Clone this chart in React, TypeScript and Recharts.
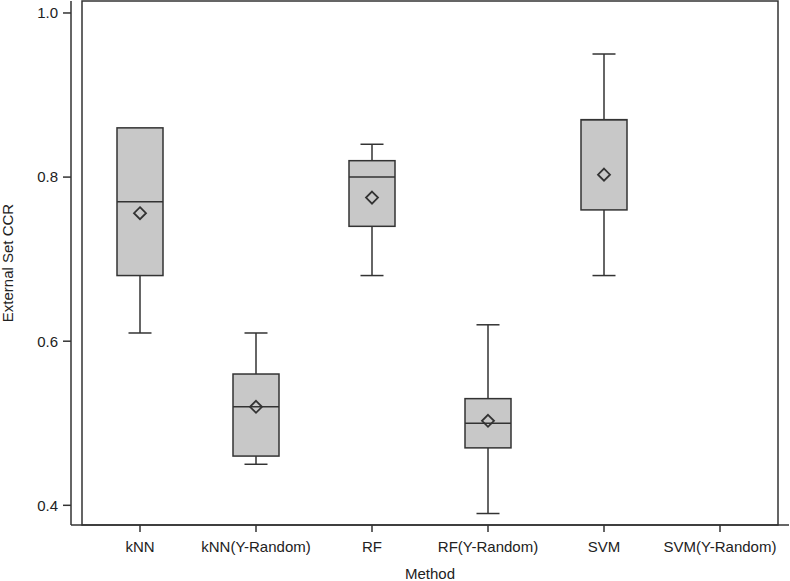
import React from 'react';
import { ComposedChart, Bar, Scatter, XAxis, YAxis, ReferenceArea } from 'recharts';

const methods = ['kNN', 'kNN(Y-Random)', 'RF', 'RF(Y-Random)', 'SVM', 'SVM(Y-Random)'];
const mins = [0.61, 0.45, 0.68, 0.39, 0.68, null];
const q1s = [0.68, 0.46, 0.74, 0.47, 0.76, null];
const medians = [0.77, 0.52, 0.8, 0.5, 0.87, null];
const q3s = [0.86, 0.56, 0.82, 0.53, 0.87, null];
const maxs = [0.86, 0.61, 0.84, 0.62, 0.95, null];
const means = [0.756, 0.52, 0.775, 0.503, 0.803, null];
const yTicks = [0.4, 0.6, 0.8, 1.0];

const Y_MIN = 0.376;
const Y_MAX = 1.0146;

const data = methods.map((name, i) => ({
  name,
  min: mins[i],
  q1: q1s[i],
  median: medians[i],
  q3: q3s[i],
  max: maxs[i],
  mean: means[i],
  range: mins[i] == null ? null : [mins[i], maxs[i]],
}));

const INK = '#333';
const FONT = '"Liberation Sans", Arial, sans-serif';

// draws the whole box from the [min, max] bar geometry
const BoxShape = (props: any) => {
  const { x, y, width, height, payload } = props;
  if (payload.min == null || !height) return null;
  const span = payload.max - payload.min;
  const py = (v: number) => y + ((payload.max - v) / span) * height;
  const cx = x + width / 2;
  const cap = width / 4;
  return (
    <g stroke={INK} strokeWidth={1.5}>
      <line x1={cx} x2={cx} y1={py(payload.max)} y2={py(payload.q3)} />
      <line x1={cx} x2={cx} y1={py(payload.q1)} y2={py(payload.min)} />
      {payload.max > payload.q3 && <line x1={cx - cap} x2={cx + cap} y1={py(payload.max)} y2={py(payload.max)} />}
      {payload.min < payload.q1 && <line x1={cx - cap} x2={cx + cap} y1={py(payload.min)} y2={py(payload.min)} />}
      <rect x={x} y={py(payload.q3)} width={width} height={py(payload.q1) - py(payload.q3)} fill="#c8c8c8" />
      <line x1={x} x2={x + width} y1={py(payload.median)} y2={py(payload.median)} />
    </g>
  );
};

const Diamond = (props: any) => {
  const { cx, cy, payload } = props;
  if (payload.mean == null || cx == null || cy == null) return null;
  const r = 6;
  return (
    <path
      d={`M${cx},${cy - r}L${cx + r},${cy}L${cx},${cy + r}L${cx - r},${cy}Z`}
      fill="none"
      stroke={INK}
      strokeWidth={1.8}
    />
  );
};

const tickStyle = { fill: '#222', fontSize: 15, fontFamily: FONT };

export default function App() {
  return (
    <div style={{ position: 'absolute', left: 0, top: 0, background: '#fff' }}>
      <ComposedChart width={790} height={581} data={data} margin={{ top: 1, right: 1, left: 0, bottom: 0 }}>
        <XAxis
          dataKey="name"
          type="category"
          padding={{ left: 11, right: 11 }}
          height={56}
          tickSize={7}
          tickMargin={9}
          tick={tickStyle}
          stroke={INK}
          strokeWidth={1.5}
          interval={0}
          label={{ value: 'Method', position: 'insideBottom', offset: 2, style: tickStyle }}
        />
        <YAxis
          type="number"
          domain={[Y_MIN, Y_MAX]}
          ticks={yTicks}
          allowDataOverflow
          width={71}
          tickSize={8}
          tickMargin={5}
          tick={tickStyle}
          tickFormatter={(v: number) => v.toFixed(1)}
          stroke={INK}
          strokeWidth={1.5}
          label={{ value: 'External Set CCR', angle: -90, position: 'insideLeft', offset: 8, style: { ...tickStyle, textAnchor: 'middle' } }}
        />
        <ReferenceArea y1={Y_MIN} y2={Y_MAX} fill="none" stroke={INK} strokeWidth={1.5} ifOverflow="visible" />
        <Bar dataKey="range" barSize={46} shape={BoxShape} isAnimationActive={false} />
        <Scatter dataKey="mean" shape={Diamond} isAnimationActive={false} />
      </ComposedChart>
    </div>
  );
}
